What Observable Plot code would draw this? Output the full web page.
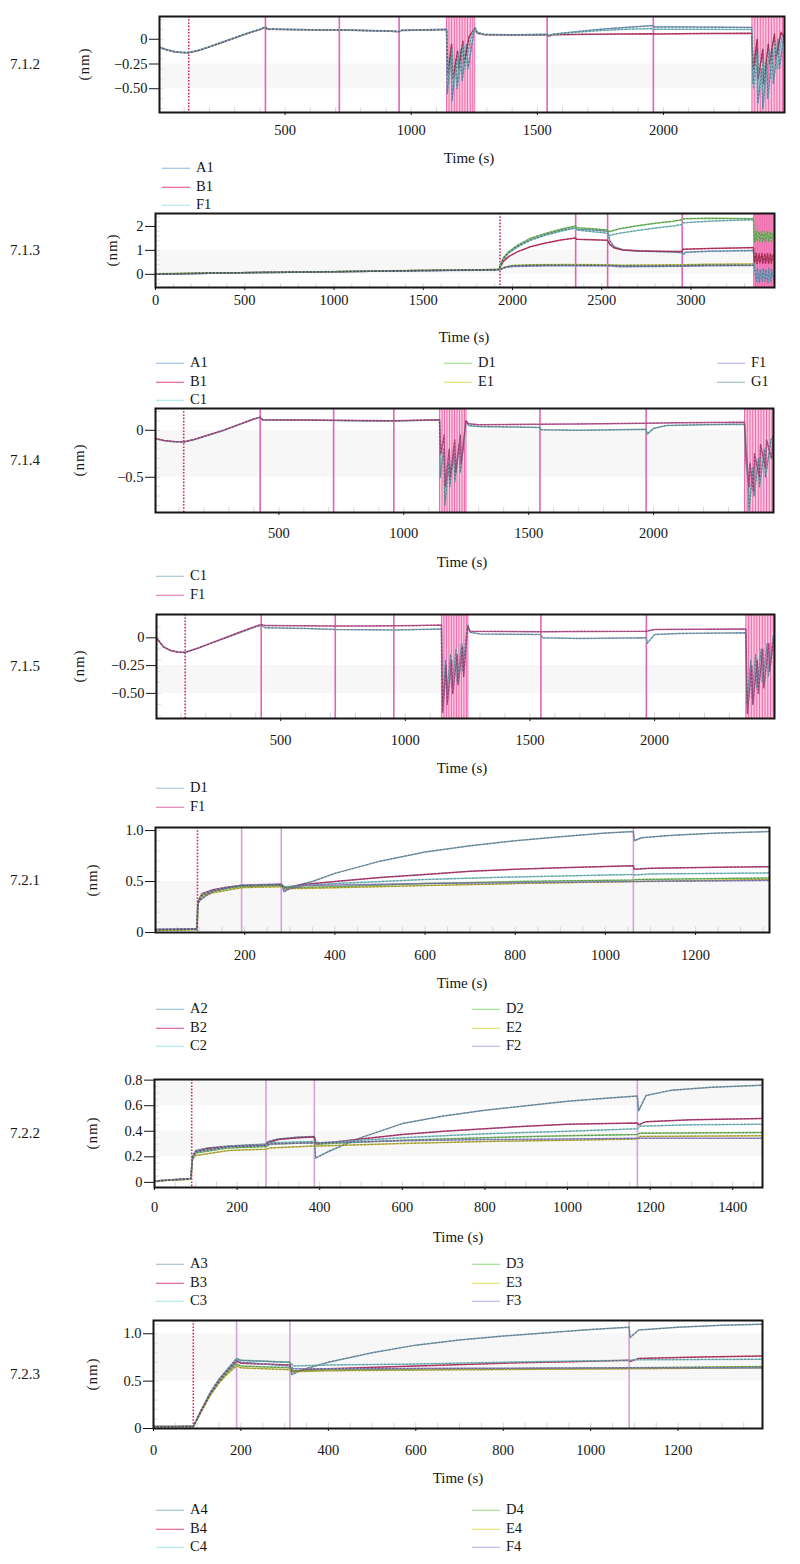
<!DOCTYPE html>
<html><head><meta charset="utf-8">
<script src="https://cdn.jsdelivr.net/npm/d3@7"></script>
<script src="https://cdn.jsdelivr.net/npm/@observablehq/plot@0.6"></script>
<style>
body{margin:0;background:#fff;}
#root{position:relative;width:800px;height:1564px;overflow:hidden;font-family:"Liberation Serif","DejaVu Serif",serif;color:#151515;}
.lab{position:absolute;font-size:15px;white-space:nowrap;line-height:1;}
.nm{position:absolute;font-size:15px;white-space:nowrap;line-height:1;letter-spacing:1px;transform:translate(-50%,-50%) rotate(-90deg);}
.time{position:absolute;font-size:15px;white-space:nowrap;line-height:1;transform:translate(-50%,-50%);}
.leg{position:absolute;font-size:14.5px;line-height:1;white-space:nowrap;transform:translateY(-50%);}
.sw{display:inline-block;width:28px;height:0;border-top:1.6px solid;vertical-align:middle;margin-right:6px;}
svg{position:absolute;left:0;}
svg text{font-family:"Liberation Serif","DejaVu Serif",serif !important;}
</style></head><body><div id="root"></div><script>
// ---------- 7.1.2 ----------
const p712_xTicks = [500, 1000, 1500, 2000];
const p712_yTicks = [0, -0.25, -0.5];
const p712_yLabels = ["0", "−0.25", "−0.50"];
const p712_steps = [422, 715, 952, 1539, 1960];
const p712_dotted = [118];
const p712_regen = [[1140, 1252], [2351, 2480]];
const p712_regenLines = [1140, 1150, 1160, 1171, 1181, 1192, 1202, 1213, 1223, 1234, 1244, 1252, 2351, 2362, 2373, 2384, 2395, 2406, 2417, 2428, 2439, 2450, 2461, 2472];
const p712_A1 = [[2,-0.08],[30,-0.105],[60,-0.125],[90,-0.133],[118,-0.135],[160,-0.11],[200,-0.075],[250,-0.03],[300,0.015],[350,0.06],[400,0.1],[422,0.125],[430,0.105],[500,0.1],[600,0.097],[715,0.095],[800,0.09],[900,0.085],[952,0.078],[960,0.09],[1050,0.095],[1140,0.1],[1143,-0.55],[1158,-0.15],[1162,-0.62],[1178,-0.2],[1182,-0.5],[1198,-0.1],[1202,-0.42],[1220,-0.05],[1225,-0.3],[1245,0.02],[1252,0.12],[1262,0.07],[1290,0.05],[1400,0.045],[1539,0.05],[1545,0.035],[1560,0.05],[1650,0.075],[1750,0.1],[1850,0.12],[1960,0.14],[1965,0.125],[2100,0.125],[2250,0.122],[2350,0.12],[2355,-0.45],[2370,-0.1],[2374,-0.65],[2390,-0.3],[2394,-0.7],[2410,-0.25],[2414,-0.6],[2432,-0.1],[2436,-0.45],[2455,0.0],[2460,-0.3],[2478,0.05]];
const p712_B1 = [[2,-0.08],[30,-0.106],[60,-0.126],[90,-0.134],[118,-0.136],[160,-0.112],[200,-0.077],[250,-0.032],[300,0.013],[350,0.058],[400,0.098],[422,0.122],[430,0.1],[500,0.098],[600,0.095],[715,0.093],[800,0.088],[900,0.083],[952,0.076],[960,0.088],[1050,0.093],[1140,0.098],[1146,-0.35],[1160,-0.05],[1166,-0.4],[1184,-0.12],[1188,-0.3],[1205,-0.02],[1210,-0.25],[1230,0.03],[1252,0.11],[1262,0.06],[1290,0.045],[1400,0.042],[1539,0.045],[1545,0.03],[1560,0.045],[1700,0.05],[1960,0.055],[1965,0.052],[2150,0.057],[2350,0.06],[2356,-0.3],[2372,0.0],[2376,-0.4],[2394,-0.1],[2398,-0.45],[2416,-0.05],[2420,-0.25],[2440,0.05],[2446,-0.2],[2466,0.07],[2478,0.02]];
const p712_F1 = [[2,-0.078],[30,-0.104],[60,-0.124],[90,-0.132],[118,-0.134],[160,-0.109],[200,-0.074],[250,-0.029],[300,0.016],[350,0.061],[400,0.101],[422,0.124],[430,0.104],[500,0.099],[600,0.096],[715,0.094],[800,0.089],[900,0.084],[952,0.077],[960,0.089],[1050,0.094],[1140,0.099],[1148,-0.45],[1163,-0.1],[1168,-0.5],[1186,-0.15],[1190,-0.38],[1208,-0.05],[1213,-0.3],[1235,0.0],[1252,0.115],[1262,0.065],[1290,0.048],[1400,0.044],[1539,0.048],[1545,0.034],[1560,0.048],[1650,0.07],[1750,0.088],[1850,0.1],[1960,0.108],[1965,0.1],[2150,0.1],[2350,0.098],[2358,-0.5],[2375,-0.15],[2380,-0.55],[2398,-0.2],[2402,-0.5],[2420,-0.1],[2424,-0.4],[2444,-0.02],[2450,-0.3],[2470,0.03]];

// ---------- 7.1.3 ----------
const p713_xTicks = [0, 500, 1000, 1500, 2000, 2500, 3000];
const p713_yTicks = [0, 1, 2];
const p713_yLabels = ["0", "1", "2"];
const p713_steps = [2354, 2533, 2951];
const p713_dotted = [1930];
const p713_regen = [[3352, 3468]];
const p713_regenLines = [3352, 3362, 3372, 3382, 3392, 3402, 3412, 3422, 3432, 3442, 3452, 3462];
const p713_A1 = [[0,0.0],[300,0.05],[600,0.08],[900,0.1],[1200,0.13],[1500,0.16],[1800,0.18],[1925,0.2],[1930,0.3],[1945,0.6],[1970,0.85],[2010,1.1],[2060,1.3],[2120,1.5],[2200,1.7],[2280,1.85],[2354,1.95],[2360,1.88],[2450,1.85],[2533,1.8],[2545,1.4],[2570,1.15],[2620,1.02],[2700,0.97],[2800,0.95],[2900,0.93],[2951,0.9],[2955,0.82],[2970,0.92],[3100,0.96],[3250,0.98],[3350,1.0],[3356,0.2],[3368,-0.3],[3372,0.25],[3384,-0.35],[3388,0.2],[3400,-0.3],[3404,0.25],[3416,-0.3],[3420,0.2],[3432,-0.35],[3436,0.25],[3448,-0.3],[3452,0.2],[3464,-0.25]];
const p713_B1 = [[0,0.01],[300,0.05],[600,0.085],[900,0.1],[1200,0.125],[1500,0.16],[1800,0.185],[1925,0.2],[1930,0.3],[1950,0.55],[1980,0.75],[2030,0.95],[2100,1.15],[2180,1.3],[2270,1.43],[2354,1.52],[2360,1.46],[2450,1.44],[2533,1.42],[2545,1.25],[2570,1.1],[2620,1.02],[2700,0.98],[2800,0.96],[2951,0.95],[2955,1.05],[3100,1.08],[3250,1.1],[3350,1.12],[3356,0.5],[3366,0.88],[3370,0.45],[3382,0.86],[3386,0.48],[3398,0.87],[3402,0.46],[3414,0.86],[3418,0.47],[3430,0.87],[3434,0.45],[3446,0.85],[3450,0.47],[3462,0.84]];
const p713_C1 = [[0,0.0],[300,0.045],[600,0.08],[900,0.1],[1200,0.13],[1500,0.155],[1800,0.18],[1925,0.2],[1930,0.35],[1950,0.65],[1980,0.9],[2030,1.15],[2100,1.42],[2180,1.62],[2270,1.8],[2354,1.93],[2360,1.85],[2450,1.78],[2533,1.72],[2540,1.62],[2600,1.72],[2700,1.83],[2800,1.93],[2900,2.02],[2951,2.08],[2960,2.15],[3100,2.22],[3250,2.26],[3350,2.28]];
const p713_D1 = [[0,0.02],[300,0.05],[600,0.08],[900,0.11],[1200,0.13],[1500,0.16],[1800,0.18],[1925,0.21],[1930,0.35],[1950,0.7],[1980,0.95],[2030,1.22],[2100,1.5],[2180,1.7],[2270,1.88],[2354,2.02],[2360,1.95],[2450,1.9],[2533,1.85],[2540,1.78],[2600,1.9],[2700,2.03],[2800,2.13],[2900,2.22],[2951,2.28],[2960,2.32],[3100,2.34],[3250,2.33],[3350,2.32],[3356,1.35],[3366,1.8],[3370,1.38],[3382,1.78],[3386,1.36],[3398,1.8],[3402,1.35],[3414,1.78],[3418,1.37],[3430,1.8],[3434,1.36],[3446,1.77],[3450,1.38],[3462,1.76]];
const p713_E1 = [[0,0.02],[300,0.06],[600,0.08],[900,0.1],[1200,0.14],[1500,0.17],[1800,0.19],[1925,0.2],[1930,0.22],[1960,0.3],[2000,0.37],[2100,0.4],[2300,0.41],[2533,0.4],[2600,0.38],[2800,0.39],[2951,0.4],[3100,0.42],[3350,0.43]];
const p713_F1 = [[0,0.0],[300,0.05],[600,0.075],[900,0.1],[1200,0.125],[1500,0.15],[1800,0.175],[1925,0.19],[1930,0.2],[1960,0.28],[2000,0.33],[2200,0.36],[2533,0.36],[2600,0.32],[2800,0.33],[2951,0.34],[3100,0.36],[3350,0.37]];
const p713_G1 = [[0,0.01],[300,0.05],[600,0.08],[900,0.1],[1200,0.13],[1500,0.16],[1800,0.18],[1925,0.2],[1930,0.2],[1960,0.3],[2000,0.36],[2200,0.38],[2533,0.37],[2700,0.35],[2951,0.36],[3100,0.38],[3350,0.38]];

// ---------- 7.1.4 ----------
const p714_xTicks = [500, 1000, 1500, 2000];
const p714_yTicks = [0, -0.5];
const p714_yLabels = ["0", "−0.5"];
const p714_steps = [425, 719, 960, 1545, 1970];
const p714_dotted = [119];
const p714_regen = [[1143, 1249], [2364, 2480]];
const p714_regenLines = [1143, 1153, 1163, 1173, 1183, 1193, 1203, 1213, 1223, 1233, 1243, 1249, 2364, 2375, 2386, 2397, 2408, 2419, 2430, 2441, 2452, 2463, 2474];
const p714_C1 = [[6,-0.09],[40,-0.11],[80,-0.122],[119,-0.125],[160,-0.1],[220,-0.05],[280,0.0],[340,0.06],[400,0.12],[425,0.14],[435,0.11],[600,0.11],[719,0.105],[850,0.1],[960,0.1],[1050,0.105],[1143,0.11],[1146,-0.5],[1160,-0.2],[1164,-0.8],[1180,-0.35],[1184,-0.6],[1200,-0.25],[1204,-0.55],[1222,-0.15],[1226,-0.45],[1244,-0.05],[1249,0.1],[1260,0.05],[1300,0.04],[1450,0.035],[1545,0.03],[1550,0.005],[1700,0.0],[1850,0.005],[1970,0.01],[1975,-0.04],[2000,0.02],[2050,0.05],[2200,0.06],[2364,0.065],[2368,-0.3],[2378,-0.55],[2382,-0.85],[2398,-0.4],[2402,-0.7],[2420,-0.3],[2424,-0.6],[2444,-0.2],[2448,-0.5],[2470,-0.1],[2480,-0.05]];
const p714_F1 = [[6,-0.088],[40,-0.108],[80,-0.12],[119,-0.123],[160,-0.098],[220,-0.048],[280,0.002],[340,0.062],[400,0.12],[425,0.138],[435,0.112],[600,0.11],[719,0.107],[850,0.104],[960,0.102],[1050,0.106],[1143,0.112],[1148,-0.25],[1162,-0.05],[1166,-0.6],[1182,-0.2],[1186,-0.5],[1204,-0.1],[1208,-0.45],[1226,-0.05],[1230,-0.35],[1246,0.05],[1249,0.1],[1260,0.07],[1300,0.06],[1545,0.065],[1700,0.068],[1970,0.075],[2100,0.08],[2364,0.085],[2370,-0.2],[2382,-0.6],[2386,-0.35],[2400,-0.65],[2404,-0.25],[2424,-0.5],[2428,-0.15],[2448,-0.4],[2452,-0.1],[2472,-0.3],[2480,-0.05]];

// ---------- 7.1.5 ----------
const p715_xTicks = [500, 1000, 1500, 2000];
const p715_yTicks = [0, -0.25, -0.5];
const p715_yLabels = ["0", "−0.25", "−0.50"];
const p715_steps = [422, 719, 954, 1544, 1967];
const p715_dotted = [117];
const p715_regen = [[1145, 1251], [2366, 2481]];
const p715_regenLines = [1145, 1155, 1165, 1175, 1185, 1195, 1205, 1215, 1225, 1235, 1245, 1251, 2366, 2377, 2388, 2399, 2410, 2421, 2432, 2443, 2454, 2465, 2476];
const p715_D1 = [[2,-0.0],[30,-0.08],[60,-0.115],[90,-0.128],[117,-0.13],[160,-0.1],[220,-0.05],[280,0.0],[340,0.05],[400,0.1],[422,0.11],[440,0.09],[600,0.085],[719,0.075],[850,0.072],[954,0.07],[1050,0.075],[1145,0.08],[1148,-0.6],[1162,-0.2],[1166,-0.5],[1182,-0.15],[1186,-0.45],[1204,-0.1],[1208,-0.4],[1226,-0.05],[1230,-0.3],[1246,0.05],[1251,0.12],[1260,0.05],[1300,0.035],[1544,0.03],[1550,0.0],[1700,-0.005],[1967,0.0],[1970,-0.05],[2000,0.03],[2100,0.04],[2366,0.045],[2370,-0.6],[2386,-0.2],[2390,-0.55],[2406,-0.15],[2410,-0.45],[2428,-0.1],[2432,-0.4],[2452,-0.05],[2456,-0.35],[2476,0.02]];
const p715_F1 = [[2,0.0],[30,-0.082],[60,-0.116],[90,-0.129],[117,-0.131],[160,-0.099],[220,-0.048],[280,0.003],[340,0.055],[400,0.105],[422,0.12],[440,0.11],[600,0.108],[719,0.106],[850,0.107],[954,0.108],[1050,0.11],[1145,0.115],[1150,-0.67],[1164,-0.25],[1168,-0.6],[1186,-0.2],[1190,-0.5],[1208,-0.15],[1212,-0.42],[1230,-0.08],[1234,-0.35],[1250,0.1],[1260,0.06],[1544,0.055],[1700,0.058],[1967,0.06],[2000,0.075],[2366,0.08],[2372,-0.68],[2390,-0.25],[2394,-0.6],[2412,-0.2],[2416,-0.5],[2434,-0.1],[2438,-0.45],[2458,-0.05],[2462,-0.3],[2478,0.0]];

// ---------- 7.2.1 ----------
const p721_xTicks = [200, 400, 600, 800, 1000, 1200];
const p721_yTicks = [0, 0.5, 1];
const p721_yLabels = ["0", "0.5", "1.0"];
const p721_steps = [193, 281, 1062];
const p721_dotted = [95];
const p721_A2 = [[2,0.03],[50,0.035],[94,0.035],[96,0.3],[105,0.37],[130,0.41],[160,0.44],[193,0.46],[240,0.465],[281,0.47],[290,0.42],[305,0.45],[350,0.5],[400,0.58],[500,0.7],[600,0.79],[700,0.85],[800,0.9],[900,0.94],[1000,0.975],[1062,0.99],[1064,0.9],[1080,0.93],[1150,0.955],[1250,0.975],[1364,0.99]];
const p721_B2 = [[2,0.03],[50,0.03],[94,0.035],[96,0.3],[105,0.38],[130,0.42],[160,0.445],[193,0.46],[281,0.47],[290,0.44],[330,0.47],[400,0.5],[500,0.54],[600,0.57],[700,0.6],[800,0.62],[900,0.635],[1062,0.655],[1064,0.62],[1100,0.63],[1250,0.64],[1364,0.645]];
const p721_C2 = [[2,0.025],[94,0.03],[96,0.29],[105,0.37],[130,0.41],[160,0.44],[193,0.455],[281,0.465],[290,0.45],[400,0.48],[600,0.52],[800,0.545],[1062,0.57],[1064,0.565],[1100,0.575],[1364,0.585]];
const p721_D2 = [[2,0.025],[94,0.03],[96,0.28],[105,0.36],[130,0.4],[160,0.43],[193,0.45],[281,0.46],[290,0.44],[400,0.45],[600,0.48],[800,0.5],[1062,0.515],[1070,0.52],[1364,0.535]];
const p721_E2 = [[2,0.02],[94,0.03],[96,0.28],[105,0.35],[130,0.39],[193,0.44],[281,0.45],[290,0.43],[400,0.44],[600,0.46],[800,0.48],[1062,0.5],[1364,0.52]];
const p721_F2 = [[2,0.03],[94,0.035],[96,0.3],[130,0.41],[193,0.465],[281,0.475],[287,0.4],[300,0.43],[330,0.46],[600,0.48],[1062,0.5],[1364,0.51]];

// ---------- 7.2.2 ----------
const p722_xTicks = [0, 200, 400, 600, 800, 1000, 1200, 1400];
const p722_yTicks = [0, 0.2, 0.4, 0.6, 0.8];
const p722_yLabels = ["0", "0.2", "0.4", "0.6", "0.8"];
const p722_steps = [270, 387, 1169];
const p722_dotted = [90];
const p722_A3 = [[0,0.01],[45,0.02],[88,0.03],[92,0.2],[100,0.25],[130,0.27],[180,0.285],[270,0.3],[275,0.32],[300,0.34],[350,0.355],[387,0.36],[390,0.19],[420,0.24],[470,0.31],[500,0.35],[600,0.46],[700,0.52],[800,0.565],[900,0.6],[1000,0.635],[1100,0.66],[1169,0.675],[1172,0.56],[1190,0.68],[1250,0.72],[1350,0.745],[1472,0.76]];
const p722_B3 = [[0,0.01],[88,0.03],[92,0.2],[100,0.24],[130,0.265],[180,0.28],[270,0.29],[275,0.31],[300,0.335],[350,0.35],[387,0.355],[392,0.3],[420,0.31],[500,0.34],[600,0.375],[700,0.4],[800,0.42],[900,0.44],[1000,0.455],[1169,0.465],[1172,0.45],[1190,0.475],[1300,0.49],[1472,0.5]];
const p722_C3 = [[0,0.01],[88,0.03],[92,0.2],[100,0.24],[180,0.28],[270,0.29],[280,0.31],[387,0.32],[400,0.31],[500,0.33],[600,0.35],[800,0.38],[1000,0.4],[1169,0.42],[1175,0.44],[1300,0.45],[1472,0.455]];
const p722_D3 = [[0,0.01],[88,0.025],[92,0.19],[100,0.23],[180,0.27],[270,0.28],[280,0.3],[387,0.31],[400,0.3],[600,0.33],[800,0.35],[1000,0.365],[1169,0.375],[1175,0.385],[1472,0.39]];
const p722_E3 = [[0,0.01],[88,0.025],[92,0.18],[100,0.21],[180,0.25],[270,0.26],[280,0.27],[387,0.285],[400,0.285],[600,0.305],[800,0.32],[1000,0.33],[1169,0.34],[1175,0.36],[1472,0.365]];
const p722_F3 = [[0,0.01],[88,0.03],[92,0.2],[100,0.24],[180,0.28],[270,0.29],[280,0.3],[387,0.31],[400,0.31],[600,0.325],[800,0.335],[1000,0.34],[1169,0.345],[1472,0.345]];

// ---------- 7.2.3 ----------
const p723_xTicks = [0, 200, 400, 600, 800, 1000, 1200];
const p723_yTicks = [0, 0.5, 1];
const p723_yLabels = ["0", "0.5", "1.0"];
const p723_steps = [190, 312, 1088];
const p723_dotted = [91];
const p723_A4 = [[0,0.02],[45,0.02],[89,0.03],[91,0.02],[110,0.2],[130,0.38],[150,0.52],[170,0.63],[190,0.74],[200,0.72],[250,0.71],[312,0.7],[316,0.57],[340,0.62],[400,0.7],[500,0.8],[600,0.88],[700,0.935],[800,0.976],[900,1.01],[1000,1.045],[1088,1.07],[1090,0.96],[1110,1.04],[1200,1.07],[1300,1.09],[1393,1.1]];
const p723_B4 = [[0,0.02],[91,0.02],[110,0.2],[130,0.37],[150,0.5],[170,0.61],[190,0.71],[200,0.69],[312,0.67],[316,0.6],[350,0.62],[400,0.63],[600,0.66],[800,0.69],[1000,0.71],[1088,0.72],[1092,0.71],[1110,0.74],[1250,0.755],[1393,0.765]];
const p723_C4 = [[0,0.02],[91,0.02],[110,0.2],[130,0.38],[150,0.52],[170,0.63],[190,0.73],[200,0.72],[312,0.7],[320,0.66],[400,0.67],[600,0.68],[800,0.7],[1088,0.72],[1100,0.725],[1393,0.73]];
const p723_D4 = [[0,0.02],[91,0.02],[110,0.19],[130,0.36],[150,0.49],[170,0.6],[190,0.68],[200,0.66],[312,0.64],[320,0.61],[400,0.62],[700,0.63],[1088,0.64],[1393,0.655]];
const p723_E4 = [[0,0.02],[91,0.02],[110,0.18],[130,0.35],[150,0.48],[170,0.58],[190,0.66],[200,0.64],[312,0.62],[320,0.6],[400,0.61],[700,0.62],[1088,0.63],[1393,0.64]];
const p723_F4 = [[0,0.02],[91,0.02],[110,0.2],[130,0.37],[150,0.51],[170,0.62],[190,0.72],[200,0.7],[312,0.66],[320,0.63],[400,0.63],[700,0.635],[1088,0.64],[1393,0.64]];

// ---------- colours ----------
const C = {
  A: "#8fb6e0", B: "#e0487c", C: "#9ee6ea", D: "#8fde7a", E: "#e2dc5a", F: "#b4aaf0", G: "#8fb2bc",
  A2: "#93b8cc", B2: "#cf4f8f", F1pink: "#e06aae", C1teal: "#8ebfca", D1blue: "#9cc2dc"
};

// ---------- panel configs (layout kept here) ----------
const panels = [
  {id:"7.1.2", frame:[159,16,784,112], xd:[2,2480], yd:[-0.74,0.23], xt:p712_xTicks, yt:p712_yTicks, yl:p712_yLabels,
   steps:p712_steps, dotted:p712_dotted, regen:p712_regen, regenLines:p712_regenLines, stepColor:"#e563b6",
   bands:[[-0.5,-0.25]], minorX:100, xGap:18, nmX:84, timeX:469, timeY:158,
   series:[{n:"A1",c:C.A,d:p712_A1},{n:"B1",c:C.B,d:p712_B1},{n:"F1",c:C.C,d:p712_F1}],
   legend:[{x:162, y:167, names:["A1","B1","F1"]}]},
  {id:"7.1.3", frame:[155,213,774,287], xd:[0,3468], yd:[-0.55,2.54], xt:p713_xTicks, yt:p713_yTicks, yl:p713_yLabels,
   steps:p713_steps, dotted:p713_dotted, regen:p713_regen, regenLines:p713_regenLines, stepColor:"#e563b6",
   bands:[[0,1]], minorX:100, xGap:13, nmX:112, timeX:464, timeY:337,
   series:[{n:"A1",c:C.A,d:p713_A1},{n:"B1",c:C.B,d:p713_B1},{n:"C1",c:C.C,d:p713_C1},{n:"D1",c:C.D,d:p713_D1},{n:"E1",c:C.E,d:p713_E1},{n:"F1",c:C.F,d:p713_F1},{n:"G1",c:C.G,d:p713_G1}],
   legend:[{x:156, y:362, names:["A1","B1","C1"]},{x:444, y:362, names:["D1","E1"]},{x:717, y:362, names:["F1","G1"]}]},
  {id:"7.1.4", frame:[155,408,773,512], xd:[6,2480], yd:[-0.875,0.232], xt:p714_xTicks, yt:p714_yTicks, yl:p714_yLabels,
   steps:p714_steps, dotted:p714_dotted, regen:p714_regen, regenLines:p714_regenLines, stepColor:"#e563b6",
   bands:[[-0.5,0]], minorX:100, xGap:21, nmX:79, timeX:462, timeY:562,
   series:[{n:"C1",c:C.C1teal,d:p714_C1},{n:"F1",c:C.F1pink,d:p714_F1}],
   legend:[{x:156, y:575, names:["C1","F1"]}]},
  {id:"7.1.5", frame:[156,614,774,718], xd:[2,2481], yd:[-0.726,0.21], xt:p715_xTicks, yt:p715_yTicks, yl:p715_yLabels,
   steps:p715_steps, dotted:p715_dotted, regen:p715_regen, regenLines:p715_regenLines, stepColor:"#e563b6",
   bands:[[-0.5,-0.25]], minorX:100, xGap:22, nmX:79, timeX:462, timeY:768,
   series:[{n:"D1",c:C.D1blue,d:p715_D1},{n:"F1",c:C.F1pink,d:p715_F1}],
   legend:[{x:156, y:787, names:["D1","F1"]}]},
  {id:"7.2.1", frame:[155,827,769,932], xd:[2,1364], yd:[0,1.03], xt:p721_xTicks, yt:p721_yTicks, yl:p721_yLabels,
   steps:p721_steps, dotted:p721_dotted, regen:[], regenLines:[], stepColor:"#d6a2d8",
   bands:[[0,0.5]], minorX:50, xGap:23, nmX:92, timeX:462, timeY:983,
   series:[{n:"A2",c:C.A2,d:p721_A2},{n:"B2",c:C.B2,d:p721_B2},{n:"C2",c:C.C,d:p721_C2},{n:"D2",c:C.D,d:p721_D2},{n:"E2",c:C.E,d:p721_E2},{n:"F2",c:C.F,d:p721_F2}],
   legend:[{x:156, y:1008, names:["A2","B2","C2"]},{x:472, y:1008, names:["D2","E2","F2"]}]},
  {id:"7.2.2", frame:[154,1079,762,1187], xd:[0,1472], yd:[-0.04,0.805], xt:p722_xTicks, yt:p722_yTicks, yl:p722_yLabels,
   steps:p722_steps, dotted:p722_dotted, regen:[], regenLines:[], stepColor:"#d6a2d8",
   bands:[[0.2,0.4],[0.6,0.8]], minorX:50, xGap:20, nmX:92, timeX:458, timeY:1237,
   series:[{n:"A3",c:C.A2,d:p722_A3},{n:"B3",c:C.B2,d:p722_B3},{n:"C3",c:C.C,d:p722_C3},{n:"D3",c:C.D,d:p722_D3},{n:"E3",c:C.E,d:p722_E3},{n:"F3",c:C.F,d:p722_F3}],
   legend:[{x:156, y:1263, names:["A3","B3","C3"]},{x:472, y:1263, names:["D3","E3","F3"]}]},
  {id:"7.2.3", frame:[153,1320,762,1428], xd:[0,1393], yd:[0,1.14], xt:p723_xTicks, yt:p723_yTicks, yl:p723_yLabels,
   steps:p723_steps, dotted:p723_dotted, regen:[], regenLines:[], stepColor:"#d6a2d8",
   bands:[[0.5,1]], minorX:50, xGap:22, nmX:92, timeX:458, timeY:1478,
   series:[{n:"A4",c:C.A2,d:p723_A4},{n:"B4",c:C.B,d:p723_B4},{n:"C4",c:C.C,d:p723_C4},{n:"D4",c:C.D,d:p723_D4},{n:"E4",c:C.E,d:p723_E4},{n:"F4",c:C.F,d:p723_F4}],
   legend:[{x:156, y:1509, names:["A4","B4","C4"]},{x:472, y:1509, names:["D4","E4","F4"]}]}
];

const root = document.getElementById("root");
const FONT = '"Liberation Serif","DejaVu Serif",serif';

function addDiv(cls, text, style){
  const d = document.createElement("div");
  d.className = cls; d.textContent = text;
  Object.assign(d.style, style);
  root.appendChild(d); return d;
}

for (const p of panels){
  const [L,T,R,B] = p.frame;
  const mt = 4, mb = 34;
  const [x0,x1] = p.xd, [y0,y1] = p.yd;
  const dy = y1 - y0;
  const minor = d3.range(Math.ceil(x0/p.minorX)*p.minorX, x1, p.minorX);
  const minorY = d3.ticks(y0, y1, 12);
  const marks = [
    Plot.rect(p.bands, {x1: () => x0, x2: () => x1, y1: d => d[0], y2: d => d[1], fill: "#f7f7f7"}),
    Plot.ruleX(minor, {y1: () => y0, y2: () => y0 + dy*0.05, stroke: "#d6d6d6", strokeWidth: 1}),
    Plot.ruleY(minorY, {x1: () => x0, x2: () => x0 + (x1-x0)*0.008, stroke: "#e0e0e0", strokeWidth: 1}),
    Plot.rect(p.regen, {x1: d => d[0], x2: d => d[1], y1: () => y0, y2: () => y1, fill: p.id === "7.1.3" ? "#f88cc0" : "#fcc6de"}),
    Plot.ruleX(p.regenLines, {stroke: "#ef6aae", strokeWidth: 1}),
    Plot.ruleX(p.steps, {stroke: p.stepColor, strokeWidth: 1.6}),
    Plot.ruleX(p.dotted, {stroke: "#d0286a", strokeWidth: 1.6, strokeDasharray: "1.6,1.6"})
  ];
  for (const s of p.series){
    const col = d3.color(s.c);
    marks.push(Plot.line(s.d, {x: d => d[0], y: d => d[1], stroke: col.darker(0.35).formatHex(), strokeWidth: 1.5, clip: true}));
  }
  for (const s of p.series){
    const col = d3.color(s.c);
    marks.push(Plot.line(s.d, {x: d => d[0], y: d => d[1], stroke: col.darker(2.2).formatHex(), strokeOpacity: 0.55, strokeWidth: 1.1, strokeDasharray: "1.2,2.4", clip: true}));
  }
  marks.push(
    Plot.axisX({ticks: p.xt, tickSize: 3, tickPadding: Math.max(1, p.xGap - 8.5), label: null, tickFormat: d => String(d), fontSize: 14.5, fontFamily: FONT}),
    Plot.axisY({ticks: p.yt, tickSize: 10, tickPadding: 2, label: null, tickFormat: d => p.yl[p.yt.indexOf(d)], fontSize: 14.5, fontFamily: FONT}),
    Plot.frame({stroke: "#161616", strokeWidth: 2})
  );
  const svg = Plot.plot({
    width: 800, height: (B - T) + mt + mb,
    marginLeft: L, marginRight: 800 - R, marginTop: mt, marginBottom: mb,
    x: {domain: p.xd}, y: {domain: p.yd},
    style: {fontFamily: FONT, fontSize: "14.5px", color: "#151515", background: "transparent", overflow: "visible"},
    marks
  });
  svg.style.top = (T - mt) + "px";
  root.appendChild(svg);

  const mid = (T + B) / 2;
  addDiv("lab", p.id, {left: "10px", top: (mid - 7) + "px"});
  addDiv("nm", "(nm)", {left: p.nmX + "px", top: mid + "px"});
  addDiv("time", "Time (s)", {left: p.timeX + "px", top: p.timeY + "px"});
  for (const col of p.legend){
    col.names.forEach((n, i) => {
      const s = p.series.find(q => q.n === n);
      const d = document.createElement("div");
      d.className = "leg";
      d.style.left = col.x + "px";
      d.style.top = (col.y + i * 18.5) + "px";
      const sw = document.createElement("span");
      sw.className = "sw"; sw.style.borderTopColor = s.c;
      d.appendChild(sw);
      d.appendChild(document.createTextNode(n));
      root.appendChild(d);
    });
  }
}
</script></body></html>
